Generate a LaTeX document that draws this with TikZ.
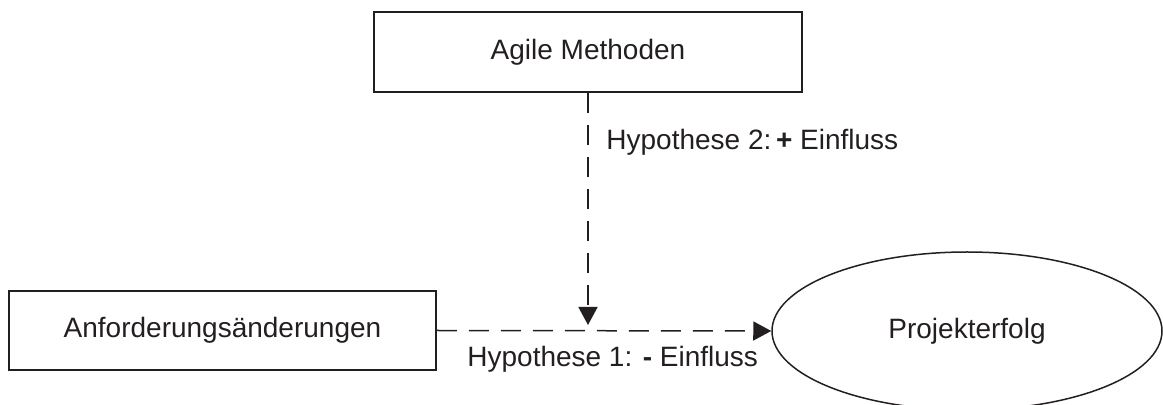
\documentclass[tikz,border=0pt]{standalone}
\usepackage{fontspec}
\setmainfont{Liberation Sans}
\usetikzlibrary{arrows.meta,shapes.geometric}

\definecolor{ink}{RGB}{35,31,32}

\tikzset{
  every node/.style={font=\fontsize{14}{16}\selectfont, text=ink},
  factor/.style={draw=ink, line width=0.8pt, rectangle, inner sep=0pt},
  outcome/.style={draw=ink, line width=0.75pt, ellipse, inner sep=0pt,
                  minimum width=195pt, minimum height=79pt},
  effect/.style={draw=ink, line width=0.75pt, dash pattern=on 10pt off 6pt,
                 -{Triangle[length=9pt,width=9.5pt]}},
  hyp/.style={anchor=base west, inner sep=0pt}
}

\begin{document}
\begin{tikzpicture}[x=0.5pt, y=-0.5pt]
  \useasboundingbox (0,0) rectangle (1163,405);

  % factors and outcome
  \node[factor, minimum width=214pt, minimum height=40pt] (agil) at (588,52) {Agile Methoden};
  \node[factor, minimum width=213.5pt, minimum height=39.5pt] (anf) at (222.5,330.5) {Anforderungsänderungen};
  \node[outcome] (erfolg) at (967,331) {Projekterfolg};

  % point where the moderating effect meets the main path
  \coordinate (meet) at (588,325);

  % hypotheses
  \draw[effect] (anf.east) -- (erfolg.west);
  \draw[effect] (agil.south) -- (meet);

  \node[hyp] (h2) at (606,150) {Hypothese 2:\,\textbf{+} Einfluss};
  \node[hyp] (h1) at (467,367) {Hypothese 1: \textbf{-} Einfluss};
\end{tikzpicture}
\end{document}
